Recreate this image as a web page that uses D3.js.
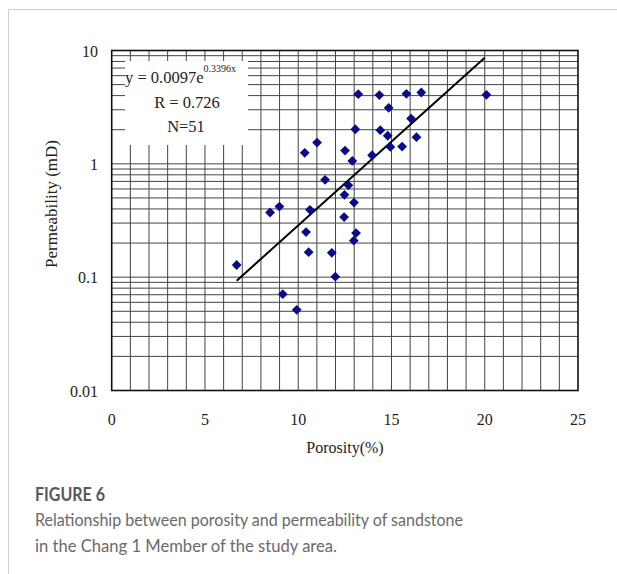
<!DOCTYPE html>
<html>
<head>
  <meta charset="utf-8">
  <title>Porosity vs permeability</title>
  <script src="https://cdn.jsdelivr.net/npm/d3@7"></script>
  <style>
    body { margin: 0; background: #fff; }
    svg text { font-family: "Liberation Serif", "Times New Roman", serif; }
  </style>
</head>
<body>
<div id="chart"></div>
<script type="text/javascript">

// sample values (porosity %, permeability mD)
var porosity = [6.70, 8.49, 8.99, 9.17, 9.92, 10.63, 10.42, 10.56, 11.80, 11.99,
                11.44, 12.69, 12.48, 12.99, 12.46, 13.10, 12.98, 13.22, 14.35, 15.80,
                16.60, 14.85, 16.05, 13.06, 14.40, 14.80, 16.34, 14.94, 15.57, 11.01,
                10.35, 12.51, 12.90, 13.96, 20.09];
var permeability = [0.128, 0.372, 0.420, 0.0708, 0.0515, 0.393, 0.250, 0.166, 0.164, 0.101,
                    0.722, 0.646, 0.533, 0.455, 0.339, 0.245, 0.210, 4.12, 4.04, 4.15,
                    4.26, 3.12, 2.51, 2.02, 1.98, 1.77, 1.72, 1.41, 1.42, 1.54,
                    1.25, 1.31, 1.06, 1.19, 4.06];

// fitted trend line end points
var trendX = [6.7, 20.0];
var trendY = [0.093, 8.65];

var xTicks = [0, 5, 10, 15, 20, 25];
var yTicks = [0.01, 0.1, 1, 10];
var yTickLabels = ["0.01", "0.1", "1", "10"];

var W = 617, H = 574;
var pL = 111.7, pR = 578, pT = 50.5, pB = 390.5;

var svg = d3.select("#chart").append("svg")
  .attr("width", W).attr("height", H);

// page frame
svg.append("path")
  .attr("d", "M8.5," + H + "V9.5H" + W)
  .attr("fill", "none").attr("stroke", "#cfcfcf").attr("stroke-width", 1);

var x = d3.scaleLinear().domain([0, 25]).range([pL, pR]);
var y = d3.scaleLog().domain([0.01, 10]).range([pB, pT]);

// grid
var g = svg.append("g");
g.selectAll("line.v").data(d3.range(1, 25)).enter().append("line")
  .attr("x1", function(d){ return x(d); }).attr("x2", function(d){ return x(d); })
  .attr("y1", pT).attr("y2", pB)
  .attr("stroke", "#444").attr("stroke-width", 1);

var minor = [];
[0.01, 0.1, 1].forEach(function(dec){
  for (var k = 1; k <= 9; k++) minor.push(dec * k);
});
g.selectAll("line.h").data(minor).enter().append("line")
  .attr("x1", pL).attr("x2", pR)
  .attr("y1", function(d){ return y(d); }).attr("y2", function(d){ return y(d); })
  .attr("stroke", "#444").attr("stroke-width", 1);

// white box behind the equation
svg.append("rect")
  .attr("x", 125).attr("y", 61).attr("width", 123).attr("height", 84)
  .attr("fill", "#fff");

// plot frame
svg.append("rect")
  .attr("x", pL).attr("y", pT).attr("width", pR - pL).attr("height", pB - pT)
  .attr("fill", "none").attr("stroke", "#111").attr("stroke-width", 1.6);

// axes labels
svg.selectAll("text.xt").data(xTicks).enter().append("text")
  .attr("x", function(d){ return x(d); }).attr("y", 425)
  .attr("text-anchor", "middle").attr("font-size", 16).attr("fill", "#222")
  .text(function(d){ return d; });

svg.selectAll("text.yt").data(yTicks).enter().append("text")
  .attr("x", 98).attr("y", function(d){ return y(d) + 6; })
  .attr("text-anchor", "end").attr("font-size", 16).attr("fill", "#222")
  .text(function(d, i){ return yTickLabels[i]; });

svg.append("text")
  .attr("x", 345).attr("y", 453)
  .attr("text-anchor", "middle").attr("font-size", 16).attr("fill", "#222")
  .text("Porosity(%)");

svg.append("text")
  .attr("transform", "translate(57,204) rotate(-90)")
  .attr("text-anchor", "middle").attr("font-size", 17).attr("fill", "#222")
  .text("Permeability (mD)");

// equation text
var eq = svg.append("text").attr("x", 125).attr("y", 83)
  .attr("font-size", 16.5).attr("fill", "#222");
eq.append("tspan").text("y = 0.0097e");
eq.append("tspan").attr("dy", -11).attr("font-size", 10).text("0.3396x");
svg.append("text").attr("x", 187).attr("y", 108)
  .attr("text-anchor", "middle").attr("font-size", 16.5).attr("fill", "#222")
  .text("R = 0.726");
svg.append("text").attr("x", 186).attr("y", 132)
  .attr("text-anchor", "middle").attr("font-size", 16.5).attr("fill", "#222")
  .text("N=51");

// trend line
var line = d3.line().x(function(d){ return x(d[0]); }).y(function(d){ return y(d[1]); });
svg.append("path")
  .datum(d3.zip(trendX, trendY))
  .attr("d", line)
  .attr("fill", "none").attr("stroke", "#000").attr("stroke-width", 2);

// samples
var diamond = d3.symbol().type(d3.symbolSquare).size(48);
svg.selectAll("path.pt").data(d3.zip(porosity, permeability)).enter().append("path")
  .attr("d", diamond)
  .attr("transform", function(d){ return "translate(" + x(d[0]) + "," + y(d[1]) + ") rotate(45)"; })
  .attr("fill", "#0a0a8c");

// caption
var cap = svg.append("g").style("font-family", "Lato, 'Open Sans', sans-serif");
cap.append("text").attr("x", 35).attr("y", 500.5)
  .style("font-family", "inherit").attr("font-size", 18).attr("font-weight", 700)
  .attr("fill", "#595959").attr("textLength", 70).attr("lengthAdjust", "spacingAndGlyphs")
  .text("FIGURE 6");
cap.append("text").attr("x", 35).attr("y", 526)
  .style("font-family", "inherit").attr("font-size", 17.5).attr("fill", "#6a6a6a")
  .attr("textLength", 428).attr("lengthAdjust", "spacingAndGlyphs")
  .text("Relationship between porosity and permeability of sandstone");
cap.append("text").attr("x", 35).attr("y", 552)
  .style("font-family", "inherit").attr("font-size", 17.5).attr("fill", "#6a6a6a")
  .attr("textLength", 302).attr("lengthAdjust", "spacingAndGlyphs")
  .text("in the Chang 1 Member of the study area.");

</script>
</body>
</html>
